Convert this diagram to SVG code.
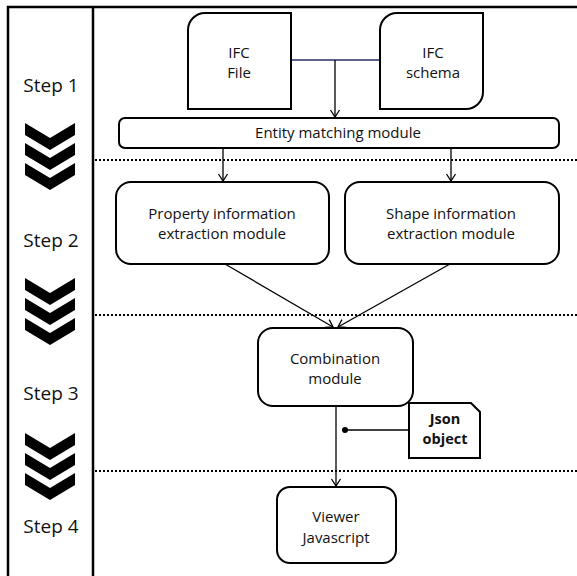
<svg xmlns="http://www.w3.org/2000/svg" width="577" height="576" viewBox="0 0 577 576">
<style>
.box{fill:#fff;stroke:#000;stroke-width:2}
.t{font-family:"Open Sans","Noto Sans",sans-serif;font-size:15px;fill:#111;text-anchor:middle}
.step{font-family:"Open Sans","Noto Sans",sans-serif;font-size:19px;fill:#111;text-anchor:middle}
.b{font-weight:bold;font-size:14.5px}
.dot{stroke:#000;stroke-width:2;stroke-dasharray:2 2;fill:none}
.c{stroke:#000;stroke-width:1.3;fill:none}
.chev{fill:#000}
</style>
<defs>
<marker id="ah" markerUnits="userSpaceOnUse" markerWidth="12" markerHeight="12" viewBox="-10 -6 12 12" refX="0" refY="0" orient="auto">
<path d="M-7,-4.5 L0,0 L-7,4.5" fill="none" stroke="#000" stroke-width="1.3"/>
</marker>
<path id="chv" d="M0,0 L25,15 L50,0 L50,12 L25,27 L0,12 Z"/>
</defs>
<rect width="577" height="576" fill="#fff"/>
<g id="frame">
<path d="M8,576 V7 H577" fill="none" stroke="#000" stroke-width="2.5"/>
<line x1="93" y1="7" x2="93" y2="576" stroke="#000" stroke-width="2.5"/>
<line class="dot" x1="95" y1="160" x2="577" y2="160"/>
<line class="dot" x1="95" y1="315" x2="577" y2="315"/>
<line class="dot" x1="95" y1="471" x2="577" y2="471"/>
</g>
<g id="steps">
<text class="step" x="51" y="92">Step 1</text>
<text class="step" x="51" y="247">Step 2</text>
<text class="step" x="51" y="400">Step 3</text>
<text class="step" x="51" y="533">Step 4</text>
<g class="chev">
<use href="#chv" x="25" y="123"/><use href="#chv" x="25" y="143"/><use href="#chv" x="25" y="163"/>
<use href="#chv" x="25" y="278"/><use href="#chv" x="25" y="298"/><use href="#chv" x="25" y="318"/>
<use href="#chv" x="25" y="433"/><use href="#chv" x="25" y="453"/><use href="#chv" x="25" y="473"/>
</g>
</g>
<g id="connectors">
<line x1="291" y1="60" x2="380" y2="60" stroke="#2b2b66" stroke-width="1.3"/>
<line class="c" x1="335" y1="60" x2="335" y2="117" marker-end="url(#ah)"/>
<line class="c" x1="223" y1="148" x2="223" y2="181" marker-end="url(#ah)"/>
<line class="c" x1="451" y1="148" x2="451" y2="181" marker-end="url(#ah)"/>
<line class="c" x1="225" y1="264" x2="333" y2="327" marker-end="url(#ah)"/>
<line class="c" x1="450" y1="264" x2="338" y2="327" marker-end="url(#ah)"/>
<line class="c" x1="336" y1="406" x2="336" y2="486" marker-end="url(#ah)"/>
<line class="c" x1="345" y1="430" x2="409" y2="430"/>
<circle cx="345" cy="430" r="3" fill="#000"/>
</g>
<g id="ifc-file">
<path class="box" d="M188,109 V30 A17,17 0 0 1 205,13 H291 V109 Z"/>
<text class="t" x="239" y="57.5">IFC</text>
<text class="t" x="239" y="78">File</text>
</g>
<g id="ifc-schema">
<path class="box" d="M380,109 V30 A17,17 0 0 1 397,13 H483 V92 A17,17 0 0 1 466,109 Z"/>
<text class="t" x="433" y="57.5">IFC</text>
<text class="t" x="433" y="78">schema</text>
</g>
<g id="entity">
<rect class="box" x="119" y="118" width="440" height="30" rx="6"/>
<text class="t" x="338" y="138">Entity matching module</text>
</g>
<g id="property">
<rect class="box" x="116" y="182" width="213" height="82" rx="15"/>
<text class="t" x="222" y="218.5">Property information</text>
<text class="t" x="222" y="239">extraction module</text>
</g>
<g id="shape">
<rect class="box" x="345" y="182" width="214" height="82" rx="15"/>
<text class="t" x="451" y="218.5">Shape information</text>
<text class="t" x="451" y="239">extraction module</text>
</g>
<g id="combination">
<rect class="box" x="258" y="328" width="155" height="78" rx="15"/>
<text class="t" x="335" y="363.5">Combination</text>
<text class="t" x="335" y="384">module</text>
</g>
<g id="json">
<path class="box" d="M409,403 H471 L480,412 V458 H409 Z"/>
<text class="t b" x="445" y="424">Json</text>
<text class="t b" x="445" y="444">object</text>
</g>
<g id="viewer">
<rect class="box" x="277" y="487" width="119" height="76" rx="13"/>
<text class="t" x="336" y="522">Viewer</text>
<text class="t" x="336" y="542.5">Javascript</text>
</g>
</svg>
